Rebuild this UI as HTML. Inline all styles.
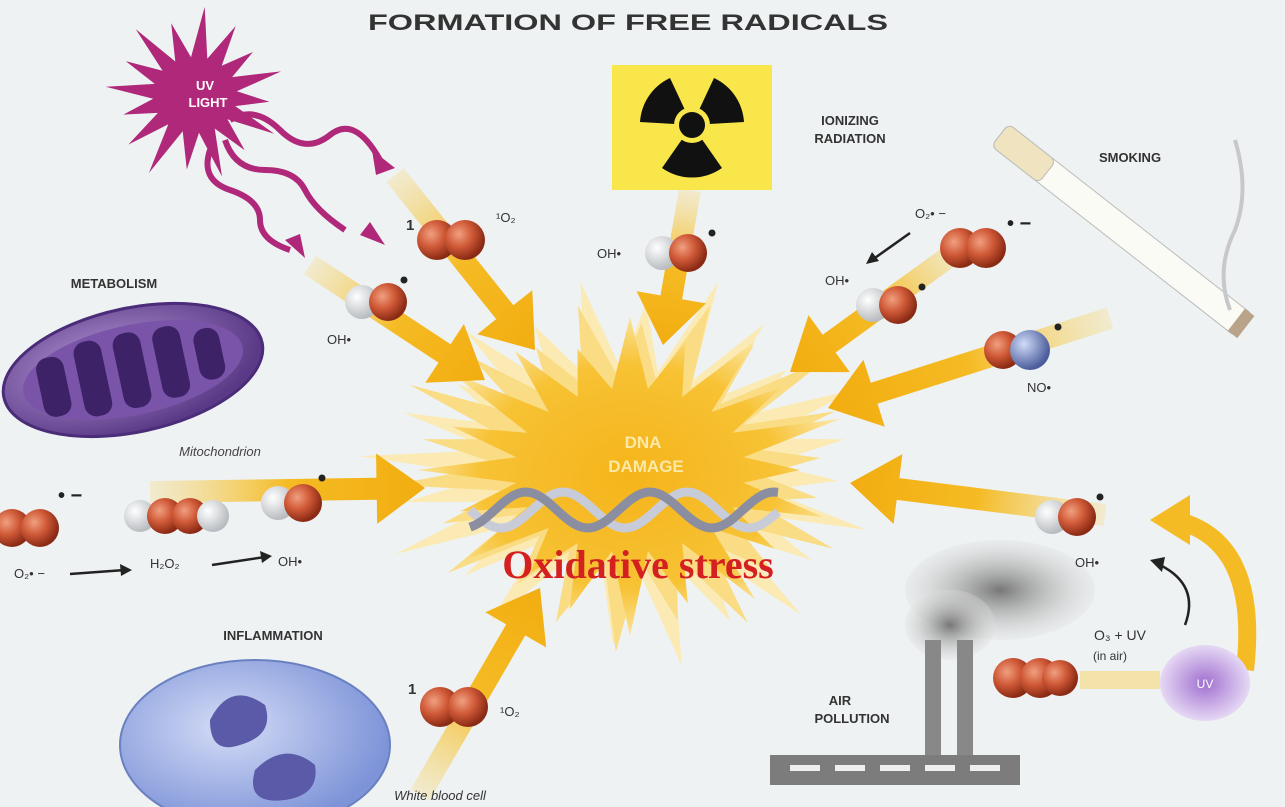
<!DOCTYPE html>
<html><head><meta charset="utf-8"><style>
html,body{margin:0;padding:0;background:#eef2f3;}
svg{display:block;font-family:"Liberation Sans",sans-serif;}
</style></head><body>
<svg id="s" width="1285" height="807" viewBox="0 0 1285 807" xmlns="http://www.w3.org/2000/svg">
<defs>
<radialGradient id="burst" cx="50%" cy="50%" r="50%">
<stop offset="0" stop-color="#f5b41a"/><stop offset="0.7" stop-color="#f7c234"/><stop offset="1" stop-color="#fbe39a"/>
</radialGradient>
<radialGradient id="red" cx="35%" cy="35%" r="65%"><stop offset="0" stop-color="#f0a080"/><stop offset="0.5" stop-color="#d05a38"/><stop offset="1" stop-color="#8a2a14"/></radialGradient>
<radialGradient id="wht" cx="35%" cy="35%" r="65%"><stop offset="0" stop-color="#fff"/><stop offset="1" stop-color="#b8bcc0"/></radialGradient>
<radialGradient id="blu" cx="35%" cy="35%" r="65%"><stop offset="0" stop-color="#d0dcf8"/><stop offset="1" stop-color="#4a5c9c"/></radialGradient>
<radialGradient id="mito" cx="40%" cy="40%" r="60%"><stop offset="0" stop-color="#b898d8"/><stop offset="1" stop-color="#5a3a86"/></radialGradient>
<radialGradient id="cell" cx="40%" cy="40%" r="60%"><stop offset="0" stop-color="#d4dcf6"/><stop offset="1" stop-color="#7e94d8"/></radialGradient>
<radialGradient id="uvb" cx="50%" cy="50%" r="50%"><stop offset="0" stop-color="#a070d0"/><stop offset="1" stop-color="#e6d8f4"/></radialGradient>
<radialGradient id="smoke" cx="50%" cy="50%" r="50%"><stop offset="0" stop-color="#777"/><stop offset="1" stop-color="#ddd" stop-opacity="0.3"/></radialGradient>
</defs>
<rect width="1285" height="807" fill="#eef2f3"/>
<g id="burstg"></g>
<g id="arrows"></g>

<text x="628" y="30" text-anchor="middle" font-size="22" font-weight="bold" fill="#333" textLength="520" lengthAdjust="spacingAndGlyphs">FORMATION OF FREE RADICALS</text>

<g id="uvstar"></g>
<text x="205" y="90" text-anchor="middle" font-size="13" font-weight="bold" fill="#fff">UV</text>
<text x="208" y="107" text-anchor="middle" font-size="13" font-weight="bold" fill="#fff">LIGHT</text>
<g fill="none" stroke="#b0287a" stroke-width="6">
<path d="M230 120 q25 -15 50 10 t50 5 t50 25"/>
<path d="M225 140 q10 30 40 30 t40 20 t40 40"/>
<path d="M210 150 q-10 30 20 40 t30 30 t30 30"/>
</g>
<polygon points="395,168 372,150 376,175" fill="#b0287a"/>
<polygon points="385,245 360,235 370,222" fill="#b0287a"/>
<polygon points="305,258 285,240 300,234" fill="#b0287a"/>

<rect x="612" y="65" width="160" height="125" fill="#f8e64a"/>
<g transform="rotate(180 692 125)">
<path d="M692 125 L662 82 A52 52 0 0 1 722 82 Z" fill="#111"/>
<path d="M692 125 L744 128 A52 52 0 0 1 714 172 Z" fill="#111"/>
<path d="M692 125 L670 172 A52 52 0 0 1 640 128 Z" fill="#111"/>
</g>
<circle cx="692" cy="125" r="18" fill="#f8e64a"/><circle cx="692" cy="125" r="13" fill="#111"/>
<text x="850" y="125" text-anchor="middle" font-size="13" font-weight="bold" fill="#333">IONIZING</text>
<text x="850" y="143" text-anchor="middle" font-size="13" font-weight="bold" fill="#333">RADIATION</text>

<g transform="translate(1000,135) rotate(38)">
<rect x="0" y="-14" width="310" height="28" rx="6" fill="#fbfbf6" stroke="#bbb"/>
<rect x="0" y="-14" width="60" height="28" rx="6" fill="#efe3c0" stroke="#bbb"/>
<rect x="300" y="-14" width="12" height="28" fill="#b9a48a"/>
</g>
<path d="M1230 310 q-15 -40 5 -80 q15 -40 0 -90" stroke="#c8c8cc" stroke-width="4" fill="none"/>
<text x="1130" y="162" text-anchor="middle" font-size="13" font-weight="bold" fill="#333">SMOKING</text>

<text x="114" y="288" text-anchor="middle" font-size="13" font-weight="bold" fill="#333">METABOLISM</text>
<g transform="translate(133,370) rotate(-12)">
<ellipse rx="132" ry="62" fill="url(#mito)" stroke="#4a2c78" stroke-width="3"/>
<ellipse rx="112" ry="45" fill="#7a54a8"/>
<g fill="#3e2268">
<rect x="-95" y="-30" width="28" height="60" rx="12"/>
<rect x="-55" y="-38" width="28" height="76" rx="12"/>
<rect x="-15" y="-38" width="28" height="76" rx="12"/>
<rect x="25" y="-36" width="28" height="72" rx="12"/>
<rect x="65" y="-26" width="26" height="52" rx="12"/>
</g>
</g>
<text x="220" y="456" text-anchor="middle" font-size="13" font-style="italic" fill="#444">Mitochondrion</text>

<text x="273" y="640" text-anchor="middle" font-size="13" font-weight="bold" fill="#333">INFLAMMATION</text>
<ellipse cx="255" cy="745" rx="135" ry="85" fill="url(#cell)" stroke="#6a80c0" stroke-width="2"/>
<path d="M210 720 q20 -40 55 -15 q10 30 -25 40 q-30 10 -30 -25 Z" fill="#5a5aa8"/>
<path d="M255 770 q30 -30 60 -5 q5 30 -30 35 q-40 5 -30 -30 Z" fill="#5a5aa8"/>
<text x="440" y="800" text-anchor="middle" font-size="13" font-style="italic" fill="#333">White blood cell</text>

<ellipse cx="1000" cy="590" rx="95" ry="50" fill="url(#smoke)"/>
<ellipse cx="950" cy="625" rx="45" ry="35" fill="url(#smoke)"/>
<rect x="925" y="640" width="16" height="120" fill="#888"/>
<rect x="957" y="640" width="16" height="120" fill="#888"/>
<rect x="770" y="755" width="250" height="30" fill="#7c7c7c"/>
<g fill="#eee"><rect x="790" y="765" width="30" height="6"/><rect x="835" y="765" width="30" height="6"/><rect x="880" y="765" width="30" height="6"/><rect x="925" y="765" width="30" height="6"/><rect x="970" y="765" width="30" height="6"/></g>
<text x="840" y="705" text-anchor="middle" font-size="13" font-weight="bold" fill="#333">AIR</text>
<text x="852" y="723" text-anchor="middle" font-size="13" font-weight="bold" fill="#333">POLLUTION</text>
<ellipse cx="1205" cy="683" rx="45" ry="38" fill="url(#uvb)"/>
<text x="1205" y="688" text-anchor="middle" font-size="12" fill="#fff">UV</text>
<text x="1120" y="640" text-anchor="middle" font-size="14" fill="#333">O₃  +  UV</text>
<text x="1110" y="660" text-anchor="middle" font-size="12" fill="#333">(in air)</text>
<path d="M1160 565 q40 20 25 60" stroke="#222" stroke-width="2.5" fill="none"/>
<polygon points="1150,560 1165,557 1162,572" fill="#222"/>

<g id="dna"></g>
<text x="643" y="448" text-anchor="middle" font-size="17" font-weight="bold" fill="#fbe9a8">DNA</text>
<text x="646" y="472" text-anchor="middle" font-size="17" font-weight="bold" fill="#fbe9a8">DAMAGE</text>
<text x="638" y="578" text-anchor="middle" font-size="40" font-weight="bold" fill="#d42020" font-family="Liberation Serif,serif">Oxidative stress</text>

<g id="mol"></g>

<g font-size="13" fill="#333">
<text x="406" y="230" font-weight="bold" font-size="15">1</text>
<text x="496" y="222">¹O₂</text>
<text x="327" y="344">OH•</text>
<text x="597" y="258">OH•</text>
<text x="915" y="218">O₂• −</text>
<text x="825" y="285">OH•</text>
<text x="1027" y="392">NO•</text>
<text x="14" y="578">O₂• −</text>
<text x="150" y="568">H₂O₂</text>
<text x="278" y="566">OH•</text>
<text x="1075" y="567">OH•</text>
<text x="408" y="694" font-weight="bold" font-size="15">1</text>
<text x="500" y="716">¹O₂</text>
</g>
<g font-size="20" font-weight="bold" fill="#222">
<text x="1007" y="230">• −</text>
<text x="58" y="502">• −</text>
</g>
<g stroke="#222" stroke-width="2.5">
<line x1="70" y1="574" x2="125" y2="570"/><line x1="212" y1="565" x2="265" y2="557"/><line x1="910" y1="233" x2="872" y2="260"/>
</g>
<polygon points="132,570 120,564 121,576" fill="#222"/>
<polygon points="272,556 260,551 262,563" fill="#222"/>
<polygon points="866,264 872,252 879,261" fill="#222"/>

<script>
var NS="http://www.w3.org/2000/svg";
function el(p,t,a){var e=document.createElementNS(NS,t);for(var k in a)e.setAttribute(k,a[k]);p.appendChild(e);return e;}
function star(g,cx,cy,rx,ry,irx,iry,n,fill,rot){var pts=[];for(var i=0;i<2*n;i++){var a=Math.PI*i/n+(rot||0);var o=i%2==0;var jit=o?(0.85+0.3*((i*37)%7)/7):1;pts.push((cx+Math.cos(a)*(o?rx*jit:irx)).toFixed(1)+","+(cy+Math.sin(a)*(o?ry*jit:iry)).toFixed(1));}el(g,"polygon",{points:pts.join(" "),fill:fill});}
var b=document.getElementById("burstg");
star(b,630,470,245,180,140,100,24,"#fbeab4",0.07);
star(b,630,470,225,165,130,92,22,"#f9dc84",0.2);
star(b,630,470,200,150,115,82,20,"url(#burst)",0);
star(document.getElementById("uvstar"),195,95,88,80,42,38,16,"#b0287a",0.1);
var A=document.getElementById("arrows");
function arrow(x1,y1,x2,y2,w){var dx=x2-x1,dy=y2-y1,L=Math.hypot(dx,dy),ux=dx/L,uy=dy/L,px=-uy,py=ux,h=w*2.2,hw=w*1.6;
var bx=x2-ux*h,by=y2-uy*h;var gid="g"+Math.round(x1)+"_"+Math.round(y1);
var lg=el(A,"linearGradient",{id:gid,gradientUnits:"userSpaceOnUse",x1:x1,y1:y1,x2:x2,y2:y2});
el(lg,"stop",{offset:"0","stop-color":"#f7d878","stop-opacity":"0.3"});el(lg,"stop",{offset:"0.5","stop-color":"#f5bb24"});el(lg,"stop",{offset:"1","stop-color":"#f2ad10"});
var p=[[x1+px*w/2,y1+py*w/2],[bx+px*w/2,by+py*w/2],[bx+px*hw,by+py*hw],[x2,y2],[bx-px*hw,by-py*hw],[bx-px*w/2,by-py*w/2],[x1-px*w/2,y1-py*w/2]];
el(A,"polygon",{points:p.map(function(q){return q[0].toFixed(1)+","+q[1].toFixed(1)}).join(" "),fill:"url(#"+gid+")"});}
arrow(395,175,535,350,22);
arrow(310,265,485,380,22);
arrow(690,190,663,345,22);
arrow(965,245,790,372,22);
arrow(1110,318,828,408,22);
arrow(150,492,425,488,22);
arrow(1105,515,850,483,22);
arrow(420,795,540,588,22);
el(A,"path",{d:"M1245 670 Q1260 540 1175 520",stroke:"#f5bb24","stroke-width":"18",fill:"none"});
el(A,"polygon",{points:"1150,520 1190,495 1190,545",fill:"#f5bb24"});
el(A,"path",{d:"M1160 680 L1080 680",stroke:"#f7d878","stroke-width":"18",fill:"none",opacity:"0.6"});
var D=document.getElementById("dna");
for(var s=0;s<2;s++){var d="";for(var x=470;x<=780;x+=4){var y=510+18*Math.sin((x-470)/310*Math.PI*5+s*Math.PI*0.6);d+=(x==470?"M":"L")+x+" "+y.toFixed(1);} el(D,"path",{d:d,stroke:s?"#8a8ea0":"#c8ccd8","stroke-width":"9",fill:"none"});}
var M=document.getElementById("mol");
function sph(x,y,r,f){el(M,"circle",{cx:x,cy:y,r:r,fill:"url(#"+f+")"});}
function dot(x,y){el(M,"circle",{cx:x,cy:y,r:3.5,fill:"#222"});}
sph(437,240,20,"red");sph(465,240,20,"red");
sph(362,302,17,"wht");sph(388,302,19,"red");dot(404,280);
sph(662,253,17,"wht");sph(688,253,19,"red");dot(712,233);
sph(960,248,20,"red");sph(986,248,20,"red");
sph(873,305,17,"wht");sph(898,305,19,"red");dot(922,287);
sph(1003,350,19,"red");sph(1030,350,20,"blu");dot(1058,327);
sph(12,528,19,"red");sph(40,528,19,"red");
sph(140,516,16,"wht");sph(165,516,18,"red");sph(190,516,18,"red");sph(213,516,16,"wht");
sph(278,503,17,"wht");sph(303,503,19,"red");dot(322,478);
sph(1052,517,17,"wht");sph(1077,517,19,"red");dot(1100,497);
sph(440,707,20,"red");sph(468,707,20,"red");
sph(1013,678,20,"red");sph(1040,678,20,"red");sph(1060,678,18,"red");
</script>
</svg>
</body></html>
